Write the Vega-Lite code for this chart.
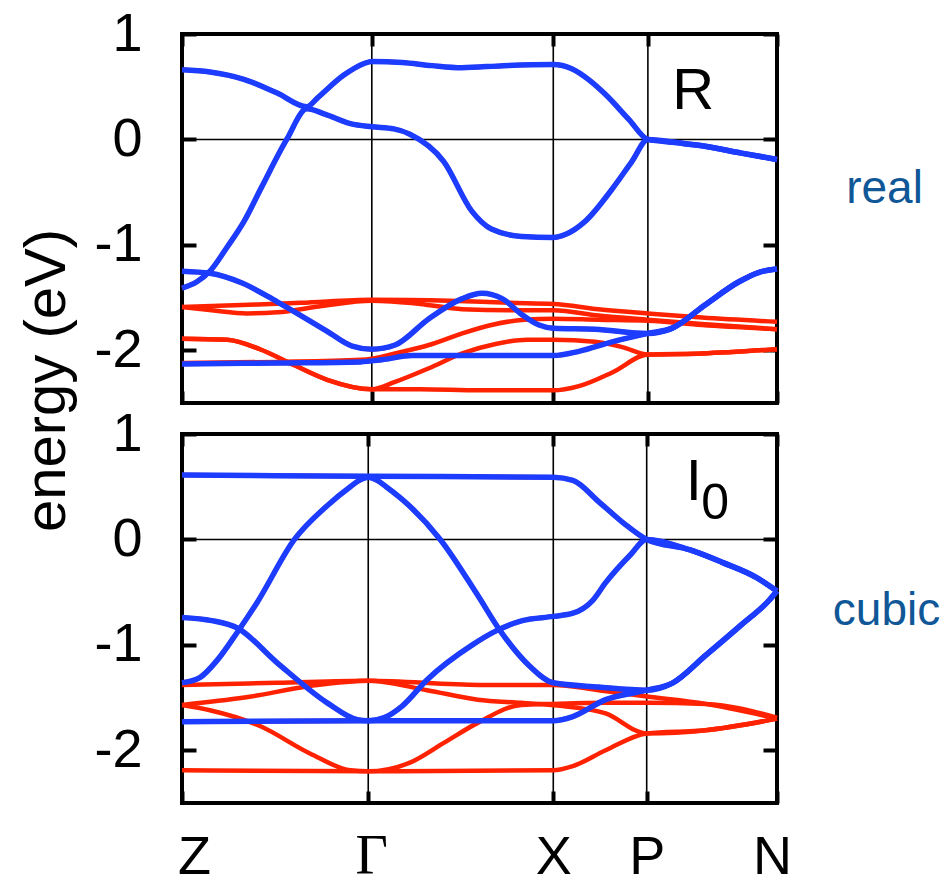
{
  "$schema": "https://vega.github.io/schema/vega-lite/v6.json",
  "background": "white",
  "padding": {"left": 16, "top": 5, "right": 0, "bottom": 0},
  "bounds": "flush",
  "spacing": 31,
  "config": {
    "view": {"stroke": "black", "strokeWidth": 4},
    "font": "Liberation Sans",
    "axis": {
      "labelFont": "Liberation Sans", "labelFontSize": 54, "labelColor": "black",
      "labelFlush": false, "labelOverlap": false,
      "tickColor": "black", "tickWidth": 4,
      "domain": false, "grid": false,
      "titleFont": "Liberation Sans", "titleFontWeight": "normal", "titleColor": "black"
    }
  },
  "datasets": {
    "symTop": [{"k": 0.319}, {"k": 0.624}, {"k": 0.783}],
    "symBottom": [{"k": 0.313}, {"k": 0.624}, {"k": 0.781}],
    "top": [
      {"b":"t1","c":"blue","k":0,"e":0.66},{"b":"t1","c":"blue","k":0.047,"e":0.64},{"b":"t1","c":"blue","k":0.104,"e":0.57},{"b":"t1","c":"blue","k":0.16,"e":0.44},{"b":"t1","c":"blue","k":0.21,"e":0.31},{"b":"t1","c":"blue","k":0.227,"e":0.39},{"b":"t1","c":"blue","k":0.272,"e":0.61},{"b":"t1","c":"blue","k":0.306,"e":0.72},{"b":"t1","c":"blue","k":0.319,"e":0.74},{"b":"t1","c":"blue","k":0.37,"e":0.73},{"b":"t1","c":"blue","k":0.42,"e":0.70},{"b":"t1","c":"blue","k":0.47,"e":0.68},{"b":"t1","c":"blue","k":0.54,"e":0.70},{"b":"t1","c":"blue","k":0.624,"e":0.71},{"b":"t1","c":"blue","k":0.655,"e":0.67},{"b":"t1","c":"blue","k":0.685,"e":0.56},{"b":"t1","c":"blue","k":0.711,"e":0.43},{"b":"t1","c":"blue","k":0.751,"e":0.19},{"b":"t1","c":"blue","k":0.783,"e":0.0},{"b":"t1","c":"blue","k":0.83,"e":-0.03},{"b":"t1","c":"blue","k":0.874,"e":-0.06},{"b":"t1","c":"blue","k":0.94,"e":-0.13},{"b":"t1","c":"blue","k":1,"e":-0.19},
      {"b":"t2","c":"blue","k":0,"e":-1.41},{"b":"t2","c":"blue","k":0.025,"e":-1.35},{"b":"t2","c":"blue","k":0.047,"e":-1.25},{"b":"t2","c":"blue","k":0.076,"e":-1.02},{"b":"t2","c":"blue","k":0.104,"e":-0.78},{"b":"t2","c":"blue","k":0.134,"e":-0.45},{"b":"t2","c":"blue","k":0.176,"e":0.0},{"b":"t2","c":"blue","k":0.21,"e":0.29},{"b":"t2","c":"blue","k":0.24,"e":0.24},{"b":"t2","c":"blue","k":0.283,"e":0.15},{"b":"t2","c":"blue","k":0.319,"e":0.12},{"b":"t2","c":"blue","k":0.356,"e":0.10},{"b":"t2","c":"blue","k":0.383,"e":0.05},{"b":"t2","c":"blue","k":0.44,"e":-0.21},{"b":"t2","c":"blue","k":0.487,"e":-0.68},{"b":"t2","c":"blue","k":0.52,"e":-0.85},{"b":"t2","c":"blue","k":0.571,"e":-0.92},{"b":"t2","c":"blue","k":0.624,"e":-0.93},{"b":"t2","c":"blue","k":0.645,"e":-0.90},{"b":"t2","c":"blue","k":0.677,"e":-0.78},{"b":"t2","c":"blue","k":0.723,"e":-0.47},{"b":"t2","c":"blue","k":0.756,"e":-0.21},{"b":"t2","c":"blue","k":0.783,"e":0.0},{"b":"t2","c":"blue","k":0.83,"e":-0.03},{"b":"t2","c":"blue","k":0.874,"e":-0.06},{"b":"t2","c":"blue","k":0.94,"e":-0.13},{"b":"t2","c":"blue","k":1,"e":-0.19},
      {"b":"t3","c":"blue","k":0,"e":-1.25},{"b":"t3","c":"blue","k":0.047,"e":-1.27},{"b":"t3","c":"blue","k":0.10,"e":-1.36},{"b":"t3","c":"blue","k":0.16,"e":-1.54},{"b":"t3","c":"blue","k":0.244,"e":-1.82},{"b":"t3","c":"blue","k":0.286,"e":-1.96},{"b":"t3","c":"blue","k":0.319,"e":-1.99},{"b":"t3","c":"blue","k":0.358,"e":-1.95},{"b":"t3","c":"blue","k":0.415,"e":-1.70},{"b":"t3","c":"blue","k":0.471,"e":-1.51},{"b":"t3","c":"blue","k":0.504,"e":-1.46},{"b":"t3","c":"blue","k":0.538,"e":-1.51},{"b":"t3","c":"blue","k":0.571,"e":-1.66},{"b":"t3","c":"blue","k":0.60,"e":-1.76},{"b":"t3","c":"blue","k":0.624,"e":-1.79},{"b":"t3","c":"blue","k":0.694,"e":-1.80},{"b":"t3","c":"blue","k":0.783,"e":-1.84},{"b":"t3","c":"blue","k":0.824,"e":-1.79},{"b":"t3","c":"blue","k":0.879,"e":-1.57},{"b":"t3","c":"blue","k":0.936,"e":-1.35},{"b":"t3","c":"blue","k":0.97,"e":-1.26},{"b":"t3","c":"blue","k":1,"e":-1.23},
      {"b":"t4","c":"blue","k":0,"e":-2.13},{"b":"t4","c":"blue","k":0.16,"e":-2.12},{"b":"t4","c":"blue","k":0.30,"e":-2.11},{"b":"t4","c":"blue","k":0.336,"e":-2.09},{"b":"t4","c":"blue","k":0.387,"e":-2.05},{"b":"t4","c":"blue","k":0.624,"e":-2.05},{"b":"t4","c":"blue","k":0.667,"e":-2.01},{"b":"t4","c":"blue","k":0.723,"e":-1.92},{"b":"t4","c":"blue","k":0.783,"e":-1.84},{"b":"t4","c":"blue","k":0.824,"e":-1.79},{"b":"t4","c":"blue","k":0.879,"e":-1.57},{"b":"t4","c":"blue","k":0.936,"e":-1.35},{"b":"t4","c":"blue","k":0.97,"e":-1.26},{"b":"t4","c":"blue","k":1,"e":-1.23},
      {"b":"t5","c":"red","k":0,"e":-1.59},{"b":"t5","c":"red","k":0.10,"e":-1.57},{"b":"t5","c":"red","k":0.20,"e":-1.55},{"b":"t5","c":"red","k":0.319,"e":-1.52},{"b":"t5","c":"red","k":0.45,"e":-1.53},{"b":"t5","c":"red","k":0.55,"e":-1.55},{"b":"t5","c":"red","k":0.624,"e":-1.56},{"b":"t5","c":"red","k":0.70,"e":-1.61},{"b":"t5","c":"red","k":0.783,"e":-1.65},{"b":"t5","c":"red","k":0.874,"e":-1.69},{"b":"t5","c":"red","k":1,"e":-1.73},
      {"b":"t6","c":"red","k":0,"e":-1.59},{"b":"t6","c":"red","k":0.05,"e":-1.62},{"b":"t6","c":"red","k":0.109,"e":-1.65},{"b":"t6","c":"red","k":0.16,"e":-1.64},{"b":"t6","c":"red","k":0.235,"e":-1.58},{"b":"t6","c":"red","k":0.319,"e":-1.53},{"b":"t6","c":"red","k":0.40,"e":-1.56},{"b":"t6","c":"red","k":0.471,"e":-1.61},{"b":"t6","c":"red","k":0.55,"e":-1.62},{"b":"t6","c":"red","k":0.624,"e":-1.62},{"b":"t6","c":"red","k":0.70,"e":-1.67},{"b":"t6","c":"red","k":0.783,"e":-1.71},{"b":"t6","c":"red","k":0.874,"e":-1.75},{"b":"t6","c":"red","k":1,"e":-1.80},
      {"b":"t7","c":"red","k":0,"e":-2.12},{"b":"t7","c":"red","k":0.16,"e":-2.11},{"b":"t7","c":"red","k":0.30,"e":-2.09},{"b":"t7","c":"red","k":0.319,"e":-2.08},{"b":"t7","c":"red","k":0.358,"e":-2.03},{"b":"t7","c":"red","k":0.415,"e":-1.95},{"b":"t7","c":"red","k":0.471,"e":-1.84},{"b":"t7","c":"red","k":0.52,"e":-1.76},{"b":"t7","c":"red","k":0.575,"e":-1.71},{"b":"t7","c":"red","k":0.624,"e":-1.70},{"b":"t7","c":"red","k":0.70,"e":-1.71},{"b":"t7","c":"red","k":0.783,"e":-1.72},{"b":"t7","c":"red","k":0.874,"e":-1.76},{"b":"t7","c":"red","k":1,"e":-1.80},
      {"b":"t8","c":"red","k":0,"e":-1.89},{"b":"t8","c":"red","k":0.076,"e":-1.90},{"b":"t8","c":"red","k":0.131,"e":-1.99},{"b":"t8","c":"red","k":0.188,"e":-2.14},{"b":"t8","c":"red","k":0.244,"e":-2.28},{"b":"t8","c":"red","k":0.319,"e":-2.37},{"b":"t8","c":"red","k":0.358,"e":-2.30},{"b":"t8","c":"red","k":0.415,"e":-2.17},{"b":"t8","c":"red","k":0.471,"e":-2.03},{"b":"t8","c":"red","k":0.527,"e":-1.94},{"b":"t8","c":"red","k":0.58,"e":-1.90},{"b":"t8","c":"red","k":0.624,"e":-1.90},{"b":"t8","c":"red","k":0.694,"e":-1.92},{"b":"t8","c":"red","k":0.74,"e":-1.97},{"b":"t8","c":"red","k":0.783,"e":-2.04},{"b":"t8","c":"red","k":0.874,"e":-2.03},{"b":"t8","c":"red","k":1,"e":-1.99},
      {"b":"t9","c":"red","k":0,"e":-1.89},{"b":"t9","c":"red","k":0.076,"e":-1.90},{"b":"t9","c":"red","k":0.131,"e":-1.99},{"b":"t9","c":"red","k":0.188,"e":-2.14},{"b":"t9","c":"red","k":0.244,"e":-2.28},{"b":"t9","c":"red","k":0.319,"e":-2.37},{"b":"t9","c":"red","k":0.40,"e":-2.37},{"b":"t9","c":"red","k":0.50,"e":-2.38},{"b":"t9","c":"red","k":0.624,"e":-2.38},{"b":"t9","c":"red","k":0.667,"e":-2.34},{"b":"t9","c":"red","k":0.723,"e":-2.21},{"b":"t9","c":"red","k":0.783,"e":-2.04},{"b":"t9","c":"red","k":0.874,"e":-2.03},{"b":"t9","c":"red","k":1,"e":-1.99}
    ],
    "bottom": [
      {"b":"u1","c":"blue","k":0,"e":0.61},{"b":"u1","c":"blue","k":0.313,"e":0.60},{"b":"u1","c":"blue","k":0.624,"e":0.59},{"b":"u1","c":"blue","k":0.657,"e":0.56},{"b":"u1","c":"blue","k":0.702,"e":0.35},{"b":"u1","c":"blue","k":0.741,"e":0.16},{"b":"u1","c":"blue","k":0.781,"e":0.0},{"b":"u1","c":"blue","k":0.854,"e":-0.10},{"b":"u1","c":"blue","k":0.909,"e":-0.22},{"b":"u1","c":"blue","k":0.965,"e":-0.36},{"b":"u1","c":"blue","k":1,"e":-0.49},
      {"b":"u2","c":"blue","k":0,"e":-1.36},{"b":"u2","c":"blue","k":0.03,"e":-1.31},{"b":"u2","c":"blue","k":0.06,"e":-1.14},{"b":"u2","c":"blue","k":0.093,"e":-0.88},{"b":"u2","c":"blue","k":0.126,"e":-0.60},{"b":"u2","c":"blue","k":0.189,"e":0.0},{"b":"u2","c":"blue","k":0.244,"e":0.32},{"b":"u2","c":"blue","k":0.283,"e":0.50},{"b":"u2","c":"blue","k":0.298,"e":0.56},{"b":"u2","c":"blue","k":0.313,"e":0.59},{"b":"u2","c":"blue","k":0.328,"e":0.56},{"b":"u2","c":"blue","k":0.343,"e":0.50},{"b":"u2","c":"blue","k":0.382,"e":0.32},{"b":"u2","c":"blue","k":0.434,"e":0.0},{"b":"u2","c":"blue","k":0.497,"e":-0.53},{"b":"u2","c":"blue","k":0.534,"e":-0.86},{"b":"u2","c":"blue","k":0.584,"e":-1.20},{"b":"u2","c":"blue","k":0.624,"e":-1.36},{"b":"u2","c":"blue","k":0.70,"e":-1.40},{"b":"u2","c":"blue","k":0.781,"e":-1.43},{"b":"u2","c":"blue","k":0.825,"e":-1.36},{"b":"u2","c":"blue","k":0.88,"e":-1.10},{"b":"u2","c":"blue","k":0.938,"e":-0.82},{"b":"u2","c":"blue","k":0.988,"e":-0.57},{"b":"u2","c":"blue","k":1,"e":-0.49},
      {"b":"u3","c":"blue","k":0,"e":-0.74},{"b":"u3","c":"blue","k":0.05,"e":-0.77},{"b":"u3","c":"blue","k":0.093,"e":-0.84},{"b":"u3","c":"blue","k":0.16,"e":-1.17},{"b":"u3","c":"blue","k":0.244,"e":-1.55},{"b":"u3","c":"blue","k":0.295,"e":-1.71},{"b":"u3","c":"blue","k":0.313,"e":-1.72},{"b":"u3","c":"blue","k":0.34,"e":-1.69},{"b":"u3","c":"blue","k":0.37,"e":-1.58},{"b":"u3","c":"blue","k":0.412,"e":-1.33},{"b":"u3","c":"blue","k":0.488,"e":-1.00},{"b":"u3","c":"blue","k":0.527,"e":-0.87},{"b":"u3","c":"blue","k":0.572,"e":-0.77},{"b":"u3","c":"blue","k":0.624,"e":-0.73},{"b":"u3","c":"blue","k":0.657,"e":-0.70},{"b":"u3","c":"blue","k":0.69,"e":-0.58},{"b":"u3","c":"blue","k":0.712,"e":-0.41},{"b":"u3","c":"blue","k":0.753,"e":-0.15},{"b":"u3","c":"blue","k":0.781,"e":0.0},{"b":"u3","c":"blue","k":0.854,"e":-0.10},{"b":"u3","c":"blue","k":0.909,"e":-0.22},{"b":"u3","c":"blue","k":0.965,"e":-0.36},{"b":"u3","c":"blue","k":1,"e":-0.49},
      {"b":"u4","c":"blue","k":0,"e":-1.73},{"b":"u4","c":"blue","k":0.313,"e":-1.72},{"b":"u4","c":"blue","k":0.624,"e":-1.72},{"b":"u4","c":"blue","k":0.657,"e":-1.68},{"b":"u4","c":"blue","k":0.712,"e":-1.52},{"b":"u4","c":"blue","k":0.781,"e":-1.43},{"b":"u4","c":"blue","k":0.825,"e":-1.36},{"b":"u4","c":"blue","k":0.88,"e":-1.10},{"b":"u4","c":"blue","k":0.938,"e":-0.82},{"b":"u4","c":"blue","k":0.988,"e":-0.57},{"b":"u4","c":"blue","k":1,"e":-0.49},
      {"b":"u5","c":"red","k":0,"e":-1.38},{"b":"u5","c":"red","k":0.16,"e":-1.36},{"b":"u5","c":"red","k":0.313,"e":-1.34},{"b":"u5","c":"red","k":0.50,"e":-1.38},{"b":"u5","c":"red","k":0.624,"e":-1.38},{"b":"u5","c":"red","k":0.70,"e":-1.43},{"b":"u5","c":"red","k":0.781,"e":-1.49},{"b":"u5","c":"red","k":0.88,"e":-1.56},{"b":"u5","c":"red","k":1,"e":-1.70},
      {"b":"u6","c":"red","k":0,"e":-1.57},{"b":"u6","c":"red","k":0.105,"e":-1.50},{"b":"u6","c":"red","k":0.216,"e":-1.39},{"b":"u6","c":"red","k":0.313,"e":-1.34},{"b":"u6","c":"red","k":0.412,"e":-1.43},{"b":"u6","c":"red","k":0.497,"e":-1.52},{"b":"u6","c":"red","k":0.57,"e":-1.55},{"b":"u6","c":"red","k":0.64,"e":-1.58},{"b":"u6","c":"red","k":0.712,"e":-1.65},{"b":"u6","c":"red","k":0.781,"e":-1.84},{"b":"u6","c":"red","k":0.88,"e":-1.81},{"b":"u6","c":"red","k":1,"e":-1.70},
      {"b":"u7","c":"red","k":0,"e":-1.57},{"b":"u7","c":"red","k":0.047,"e":-1.62},{"b":"u7","c":"red","k":0.131,"e":-1.77},{"b":"u7","c":"red","k":0.215,"e":-2.03},{"b":"u7","c":"red","k":0.283,"e":-2.19},{"b":"u7","c":"red","k":0.313,"e":-2.20},{"b":"u7","c":"red","k":0.382,"e":-2.12},{"b":"u7","c":"red","k":0.44,"e":-1.93},{"b":"u7","c":"red","k":0.497,"e":-1.74},{"b":"u7","c":"red","k":0.57,"e":-1.57},{"b":"u7","c":"red","k":0.624,"e":-1.56},{"b":"u7","c":"red","k":0.712,"e":-1.55},{"b":"u7","c":"red","k":0.781,"e":-1.55},{"b":"u7","c":"red","k":0.88,"e":-1.56},{"b":"u7","c":"red","k":1,"e":-1.69},
      {"b":"u8","c":"red","k":0,"e":-2.19},{"b":"u8","c":"red","k":0.313,"e":-2.20},{"b":"u8","c":"red","k":0.624,"e":-2.19},{"b":"u8","c":"red","k":0.657,"e":-2.15},{"b":"u8","c":"red","k":0.712,"e":-2.00},{"b":"u8","c":"red","k":0.781,"e":-1.84},{"b":"u8","c":"red","k":0.88,"e":-1.81},{"b":"u8","c":"red","k":1,"e":-1.70}
    ]
  },
  "vconcat": [
    {
      "width": 595,
      "height": 369,
      "layer": [
        {
          "data": {"name": "symTop"},
          "mark": {"type": "rule", "color": "black", "strokeWidth": 1.6},
          "encoding": {
            "x": {"field": "k", "type": "quantitative", "scale": {"domain": [0, 1], "nice": false, "zero": false}, "axis": null}
          }
        },
        {
          "data": {"values": [{"e": 0}]},
          "mark": {"type": "rule", "color": "black", "strokeWidth": 1.6},
          "encoding": {
            "y": {"field": "e", "type": "quantitative", "scale": {"domain": [-2.5, 1], "nice": false, "zero": false}, "axis": null}
          }
        },
        {
          "data": {"name": "top"},
          "mark": {"type": "line", "color": "#ff2200", "strokeWidth": 4.5, "interpolate": "monotone"},
          "encoding": {
            "detail": {"field": "b"},
            "x": {
              "field": "k", "type": "quantitative",
              "scale": {"domain": [0, 1], "nice": false, "zero": false},
              "axis": {"orient": "bottom", "values": [0, 0.319, 0.624, 0.783, 1], "labels": false, "tickSize": -12, "title": null}
            },
            "y": {
              "field": "e", "type": "quantitative",
              "scale": {"domain": [-2.5, 1], "nice": false, "zero": false},
              "axis": {
                "orient": "left", "values": [-2, -1, 0, 1], "tickSize": -14, "labelPadding": 54,
                "labelExpr": "replace(datum.label, '\u2212', '-')",
                "title": "energy (eV)", "titleFontSize": 58, "titleAngle": 270,
                "titleX": -118, "titleY": 346, "titleAlign": "center", "titleBaseline": "alphabetic"
              }
            }
          }
        },
        {
          "data": {"name": "top"},
          "transform": [{"filter": "datum.c == 'blue'"}],
          "mark": {"type": "line", "color": "#1c3cff", "strokeWidth": 5.5, "interpolate": "monotone"},
          "encoding": {
            "detail": {"field": "b"},
            "x": {
              "field": "k", "type": "quantitative",
              "scale": {"domain": [0, 1], "nice": false, "zero": false},
              "axis": {"orient": "top", "values": [0, 0.319, 0.624, 0.783, 1], "labels": false, "tickSize": -12, "title": null}
            },
            "y": {
              "field": "e", "type": "quantitative",
              "scale": {"domain": [-2.5, 1], "nice": false, "zero": false},
              "axis": {
                "orient": "right", "values": [-2, -1, 0, 1], "labels": false, "tickSize": -14,
                "title": "real", "titleFontSize": 46, "titleColor": "#0f5797", "titleAngle": 0,
                "titleX": 107, "titleY": 168, "titleAlign": "center", "titleBaseline": "alphabetic"
              }
            }
          }
        },
        {
          "data": {"values": [{"t": "R"}]},
          "mark": {"type": "text", "fontSize": 58, "align": "center", "baseline": "alphabetic", "color": "black"},
          "encoding": {
            "text": {"field": "t"},
            "x": {"datum": 0.859, "type": "quantitative", "scale": {"domain": [0, 1], "nice": false, "zero": false}, "axis": null},
            "y": {"datum": 0.29, "type": "quantitative", "scale": {"domain": [-2.5, 1], "nice": false, "zero": false}, "axis": null}
          }
        }
      ]
    },
    {
      "width": 595,
      "height": 369,
      "layer": [
        {
          "data": {"name": "symBottom"},
          "mark": {"type": "rule", "color": "black", "strokeWidth": 1.6},
          "encoding": {
            "x": {"field": "k", "type": "quantitative", "scale": {"domain": [0, 1], "nice": false, "zero": false}, "axis": null}
          }
        },
        {
          "data": {"values": [{"e": 0}]},
          "mark": {"type": "rule", "color": "black", "strokeWidth": 1.6},
          "encoding": {
            "y": {"field": "e", "type": "quantitative", "scale": {"domain": [-2.5, 1], "nice": false, "zero": false}, "axis": null}
          }
        },
        {
          "data": {"name": "bottom"},
          "mark": {"type": "line", "color": "#ff2200", "strokeWidth": 4.5, "interpolate": "monotone"},
          "encoding": {
            "detail": {"field": "b"},
            "x": {
              "field": "k", "type": "quantitative",
              "scale": {"domain": [0, 1], "nice": false, "zero": false},
              "axis": {
                "orient": "bottom", "values": [0, 0.313, 0.624, 0.781, 1], "tickSize": -12,
                "labelPadding": 82, "labelBaseline": "alphabetic", "title": null,
                "labelExpr": "datum.value == 0 ? 'Z' : datum.value < 0.4 ? 'Γ' : datum.value < 0.7 ? 'X' : datum.value < 0.9 ? 'P' : 'N'",
                "labelFont": {"condition": {"test": "datum.value > 0.2 && datum.value < 0.4", "value": "Liberation Serif"}, "value": "Liberation Sans"},
                "labelFontSize": {"condition": {"test": "datum.value > 0.2 && datum.value < 0.4", "value": 56}, "value": 54},
                "labelOffset": {"condition": [{"test": "datum.value == 0", "value": 12}, {"test": "datum.value == 1", "value": -5}, {"test": "datum.value > 0.2 && datum.value < 0.4", "value": 3}], "value": 0}
              }
            },
            "y": {
              "field": "e", "type": "quantitative",
              "scale": {"domain": [-2.5, 1], "nice": false, "zero": false},
              "axis": {"orient": "left", "values": [-2, -1, 0, 1], "tickSize": -14, "labelPadding": 54, "labelExpr": "replace(datum.label, '\u2212', '-')", "title": null}
            }
          }
        },
        {
          "data": {"name": "bottom"},
          "transform": [{"filter": "datum.c == 'blue'"}],
          "mark": {"type": "line", "color": "#1c3cff", "strokeWidth": 5.5, "interpolate": "monotone"},
          "encoding": {
            "detail": {"field": "b"},
            "x": {
              "field": "k", "type": "quantitative",
              "scale": {"domain": [0, 1], "nice": false, "zero": false},
              "axis": {"orient": "top", "values": [0, 0.313, 0.624, 0.781, 1], "labels": false, "tickSize": -12, "title": null}
            },
            "y": {
              "field": "e", "type": "quantitative",
              "scale": {"domain": [-2.5, 1], "nice": false, "zero": false},
              "axis": {
                "orient": "right", "values": [-2, -1, 0, 1], "labels": false, "tickSize": -14,
                "title": "cubic", "titleFontSize": 46, "titleColor": "#0f5797", "titleAngle": 0,
                "titleX": 109, "titleY": 190, "titleAlign": "center", "titleBaseline": "alphabetic"
              }
            }
          }
        },
        {
          "data": {"values": [{"t": "I", "k": 0.860, "e": 0.37, "s": "main"}, {"t": "0", "k": 0.896, "e": 0.19, "s": "sub"}]},
          "mark": {"type": "text", "align": "center", "baseline": "alphabetic", "color": "black"},
          "encoding": {
            "text": {"field": "t"},
            "size": {"field": "s", "type": "nominal", "scale": {"domain": ["main", "sub"], "range": [58, 50]}, "legend": null},
            "x": {"field": "k", "type": "quantitative", "scale": {"domain": [0, 1], "nice": false, "zero": false}, "axis": null},
            "y": {"field": "e", "type": "quantitative", "scale": {"domain": [-2.5, 1], "nice": false, "zero": false}, "axis": null}
          }
        }
      ]
    }
  ]
}
